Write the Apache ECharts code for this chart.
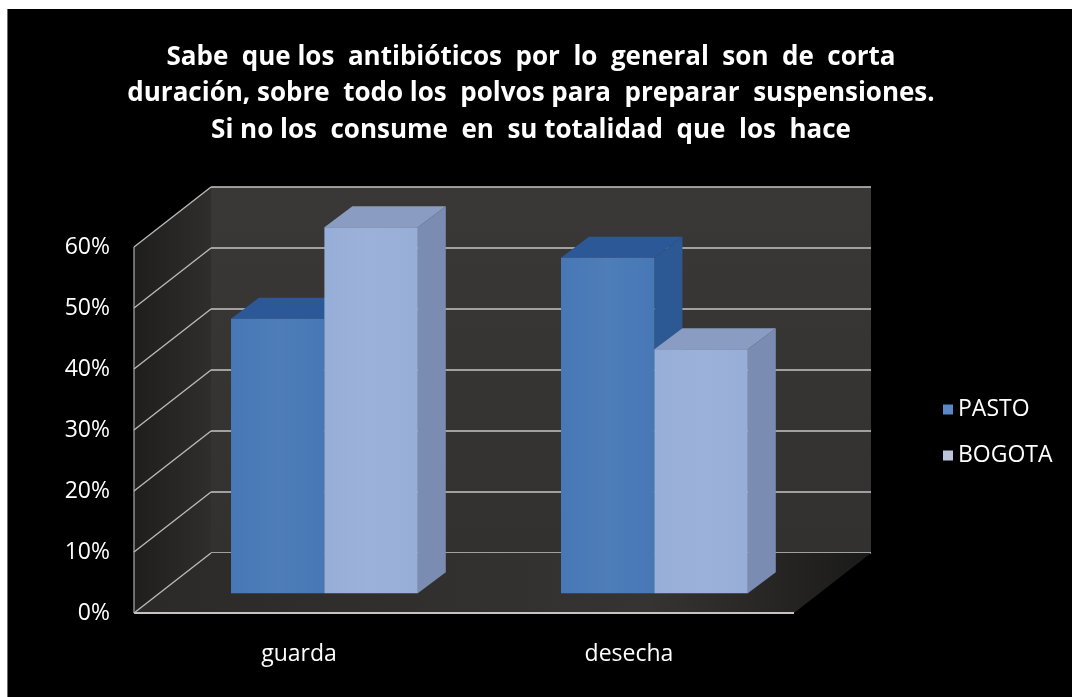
<!DOCTYPE html>
<html>
<head>
<meta charset="utf-8">
<script src="https://cdn.jsdelivr.net/npm/echarts@6/dist/echarts.min.js"></script>
<style>
  html, body { margin: 0; padding: 0; background: #ffffff; }
  #chart { position: absolute; left: 7px; top: 9px; width: 1065px; height: 688px; background: #000; border-left: 1px solid #6a6a6a; box-sizing: border-box; }
</style>
</head>
<body>
<div id="chart"></div>
<script>
// Chart data
const titleLines = [
  'Sabe  que los  antibióticos  por  lo  general  son  de  corta',
  'duración, sobre  todo los  polvos para  preparar  suspensiones.',
  'Si no los  consume  en  su totalidad  que  los  hace'
];
const categories = ['guarda', 'desecha'];
const seriesNames = ['PASTO', 'BOGOTA'];
const pasto = [45, 55];
const bogota = [60, 40];
const yTicks = [0, 10, 20, 30, 40, 50, 60];

// Layout of the pseudo-3D box: front plane, depth vector and bar plane
const FRONT = { left: 126, top: 238, width: 660, height: 366 };
const DEPTH = [77, -60];          // front edge -> back wall
const BAR_PLANE = 0.33;           // bars sit a third of the way back
const BAR_DEPTH = [28, -21];      // thickness of each column
const BAR_FRAC = 0.283;           // column width as share of a category band

function gridAt(f) {
  return {
    left: FRONT.left + DEPTH[0] * f,
    top: FRONT.top + DEPTH[1] * f,
    width: FRONT.width,
    height: FRONT.height
  };
}

const fontFamily = '"Open Sans", Lato, sans-serif';

const palette = {
  PASTO:  { front: '#4778b6', top: '#2d5898', side: '#2c5893', legend: '#5a87c6' },
  BOGOTA: { front: '#97aed8', top: '#8a9cc2', side: '#7a8cb2', legend: '#bcc4dc' }
};

function barRenderer(sign, colors) {
  return function (params, api) {
    const cat = api.value(0);
    const val = api.value(1);
    const base = api.coord([cat, 0]);
    const top = api.coord([cat, val]);
    const w = api.size([1, 0])[0] * BAR_FRAC;
    const x0 = sign < 0 ? base[0] - w : base[0];
    const x1 = x0 + w;
    const yb = base[1], yt = top[1];
    const dx = BAR_DEPTH[0], dy = BAR_DEPTH[1];
    return {
      type: 'group',
      children: [
        { type: 'polygon', shape: { points: [[x1, yb], [x1 + dx, yb + dy], [x1 + dx, yt + dy], [x1, yt]] },
          style: { fill: colors.side } },
        { type: 'polygon', shape: { points: [[x0, yt], [x0 + dx, yt + dy], [x1 + dx, yt + dy], [x1, yt]] },
          style: { fill: colors.top } },
        { type: 'rect', shape: { x: x0, y: yt, width: w, height: yb - yt },
          style: { fill: new echarts.graphic.LinearGradient(0, 0, 1, 0, [
            { offset: 0, color: colors.front },
            { offset: 0.5, color: echarts.color.lift(colors.front, 0.04) },
            { offset: 1, color: colors.front }
          ]) } }
      ]
    };
  };
}

// Side wall and floor, drawn from the front plane's coordinate system
function surfaceRenderer(params, api) {
  const cs = params.coordSys;
  const L = cs.x, R = cs.x + cs.width;
  const y0 = api.coord([0, yTicks[0]])[1];
  const yMax = api.coord([0, yTicks[yTicks.length - 1]])[1];
  const dx = DEPTH[0], dy = DEPTH[1];
  return {
    type: 'group',
    children: [
      { type: 'polygon', shape: { points: [[L, yMax], [L, y0], [L + dx, y0 + dy], [L + dx, yMax + dy]] },
        style: { fill: new echarts.graphic.LinearGradient(0, 0, 1, 0, [
          { offset: 0, color: '#1f1e1d' }, { offset: 1, color: '#302e2c' }
        ]) } },
      { type: 'polygon', shape: { points: [[L, y0], [R, y0], [R + dx, y0 + dy], [L + dx, y0 + dy]] },
        style: { fill: new echarts.graphic.LinearGradient(0, 0, 1, 0, [
          { offset: 0, color: '#2c2a28' }, { offset: 0.7, color: '#363432' }, { offset: 1, color: '#1a1a19' }
        ]) } },
      { type: 'line', shape: { x1: L, y1: y0, x2: L, y2: yMax }, style: { stroke: '#8c8c8c', lineWidth: 1.5 } },
      { type: 'line', shape: { x1: L, y1: y0, x2: R, y2: y0 }, style: { stroke: '#c4c4c4', lineWidth: 2 } }
    ]
  };
}

function diagonalRenderer(params, api) {
  const cs = params.coordSys;
  const L = cs.x;
  const y = api.coord([0, api.value(1)])[1];
  return {
    type: 'line',
    shape: { x1: L, y1: y, x2: L + DEPTH[0], y2: y + DEPTH[1] },
    style: { stroke: '#b9b9b9', lineWidth: 1.4 }
  };
}

const chart = echarts.init(document.getElementById('chart'));

chart.setOption({
  backgroundColor: '#000000',
  animation: false,
  graphic: [{
    type: 'text',
    x: 523,
    y: 30,
    style: {
      text: titleLines.join('\n'),
      fill: '#ffffff',
      font: 'bold 26px ' + fontFamily,
      lineHeight: 36.5,
      textAlign: 'center',
      textVerticalAlign: 'top'
    }
  }],
  legend: {
    data: seriesNames,
    orient: 'vertical',
    left: 930,
    top: 384,
    itemWidth: 10,
    itemHeight: 10,
    itemGap: 23,
    icon: 'rect',
    textStyle: { color: '#ffffff', fontSize: 23, fontFamily: fontFamily }
  },
  grid: [
    Object.assign({ show: true, backgroundColor: new echarts.graphic.LinearGradient(0, 0, 0, 1, [
      { offset: 0, color: '#3a3836' }, { offset: 1, color: '#33312f' }
    ]), borderWidth: 0 }, gridAt(1)),
    gridAt(0),
    gridAt(BAR_PLANE)
  ],
  xAxis: [
    { gridIndex: 0, type: 'category', data: categories, show: false },
    { gridIndex: 1, type: 'category', data: categories,
      axisLine: { show: false }, axisTick: { show: false },
      axisLabel: { color: '#ffffff', fontSize: 23, fontFamily: fontFamily, margin: 30 } },
    { gridIndex: 2, type: 'category', data: categories, show: false }
  ],
  yAxis: [
    { gridIndex: 0, type: 'value', min: 0, max: 60, interval: 10,
      axisLine: { show: false }, axisTick: { show: false }, axisLabel: { show: false },
      splitLine: { show: true, lineStyle: { color: '#c6c6c6', width: 1.6 } } },
    { gridIndex: 1, type: 'value', min: 0, max: 60, interval: 10,
      axisLine: { show: false }, axisTick: { show: false }, splitLine: { show: false },
      axisLabel: { color: '#ffffff', fontSize: 23, fontFamily: fontFamily, margin: 24, formatter: '{value}%' } },
    { gridIndex: 2, type: 'value', min: 0, max: 60, interval: 10, show: false }
  ],
  series: [
    { type: 'custom', name: 'walls', xAxisIndex: 1, yAxisIndex: 1, z: 1, silent: true,
      renderItem: surfaceRenderer, data: [[0, 0]] },
    { type: 'custom', name: 'wallLines', xAxisIndex: 1, yAxisIndex: 1, z: 1, silent: true,
      renderItem: diagonalRenderer, data: yTicks.map(v => [0, v]) },
    { type: 'custom', name: 'PASTO', xAxisIndex: 2, yAxisIndex: 2, z: 3,
      itemStyle: { color: palette.PASTO.legend },
      renderItem: barRenderer(-1, palette.PASTO),
      data: pasto.map((v, i) => [i, v]) },
    { type: 'custom', name: 'BOGOTA', xAxisIndex: 2, yAxisIndex: 2, z: 4,
      itemStyle: { color: palette.BOGOTA.legend },
      renderItem: barRenderer(1, palette.BOGOTA),
      data: bogota.map((v, i) => [i, v]) }
  ]
});
</script>
</body>
</html>
